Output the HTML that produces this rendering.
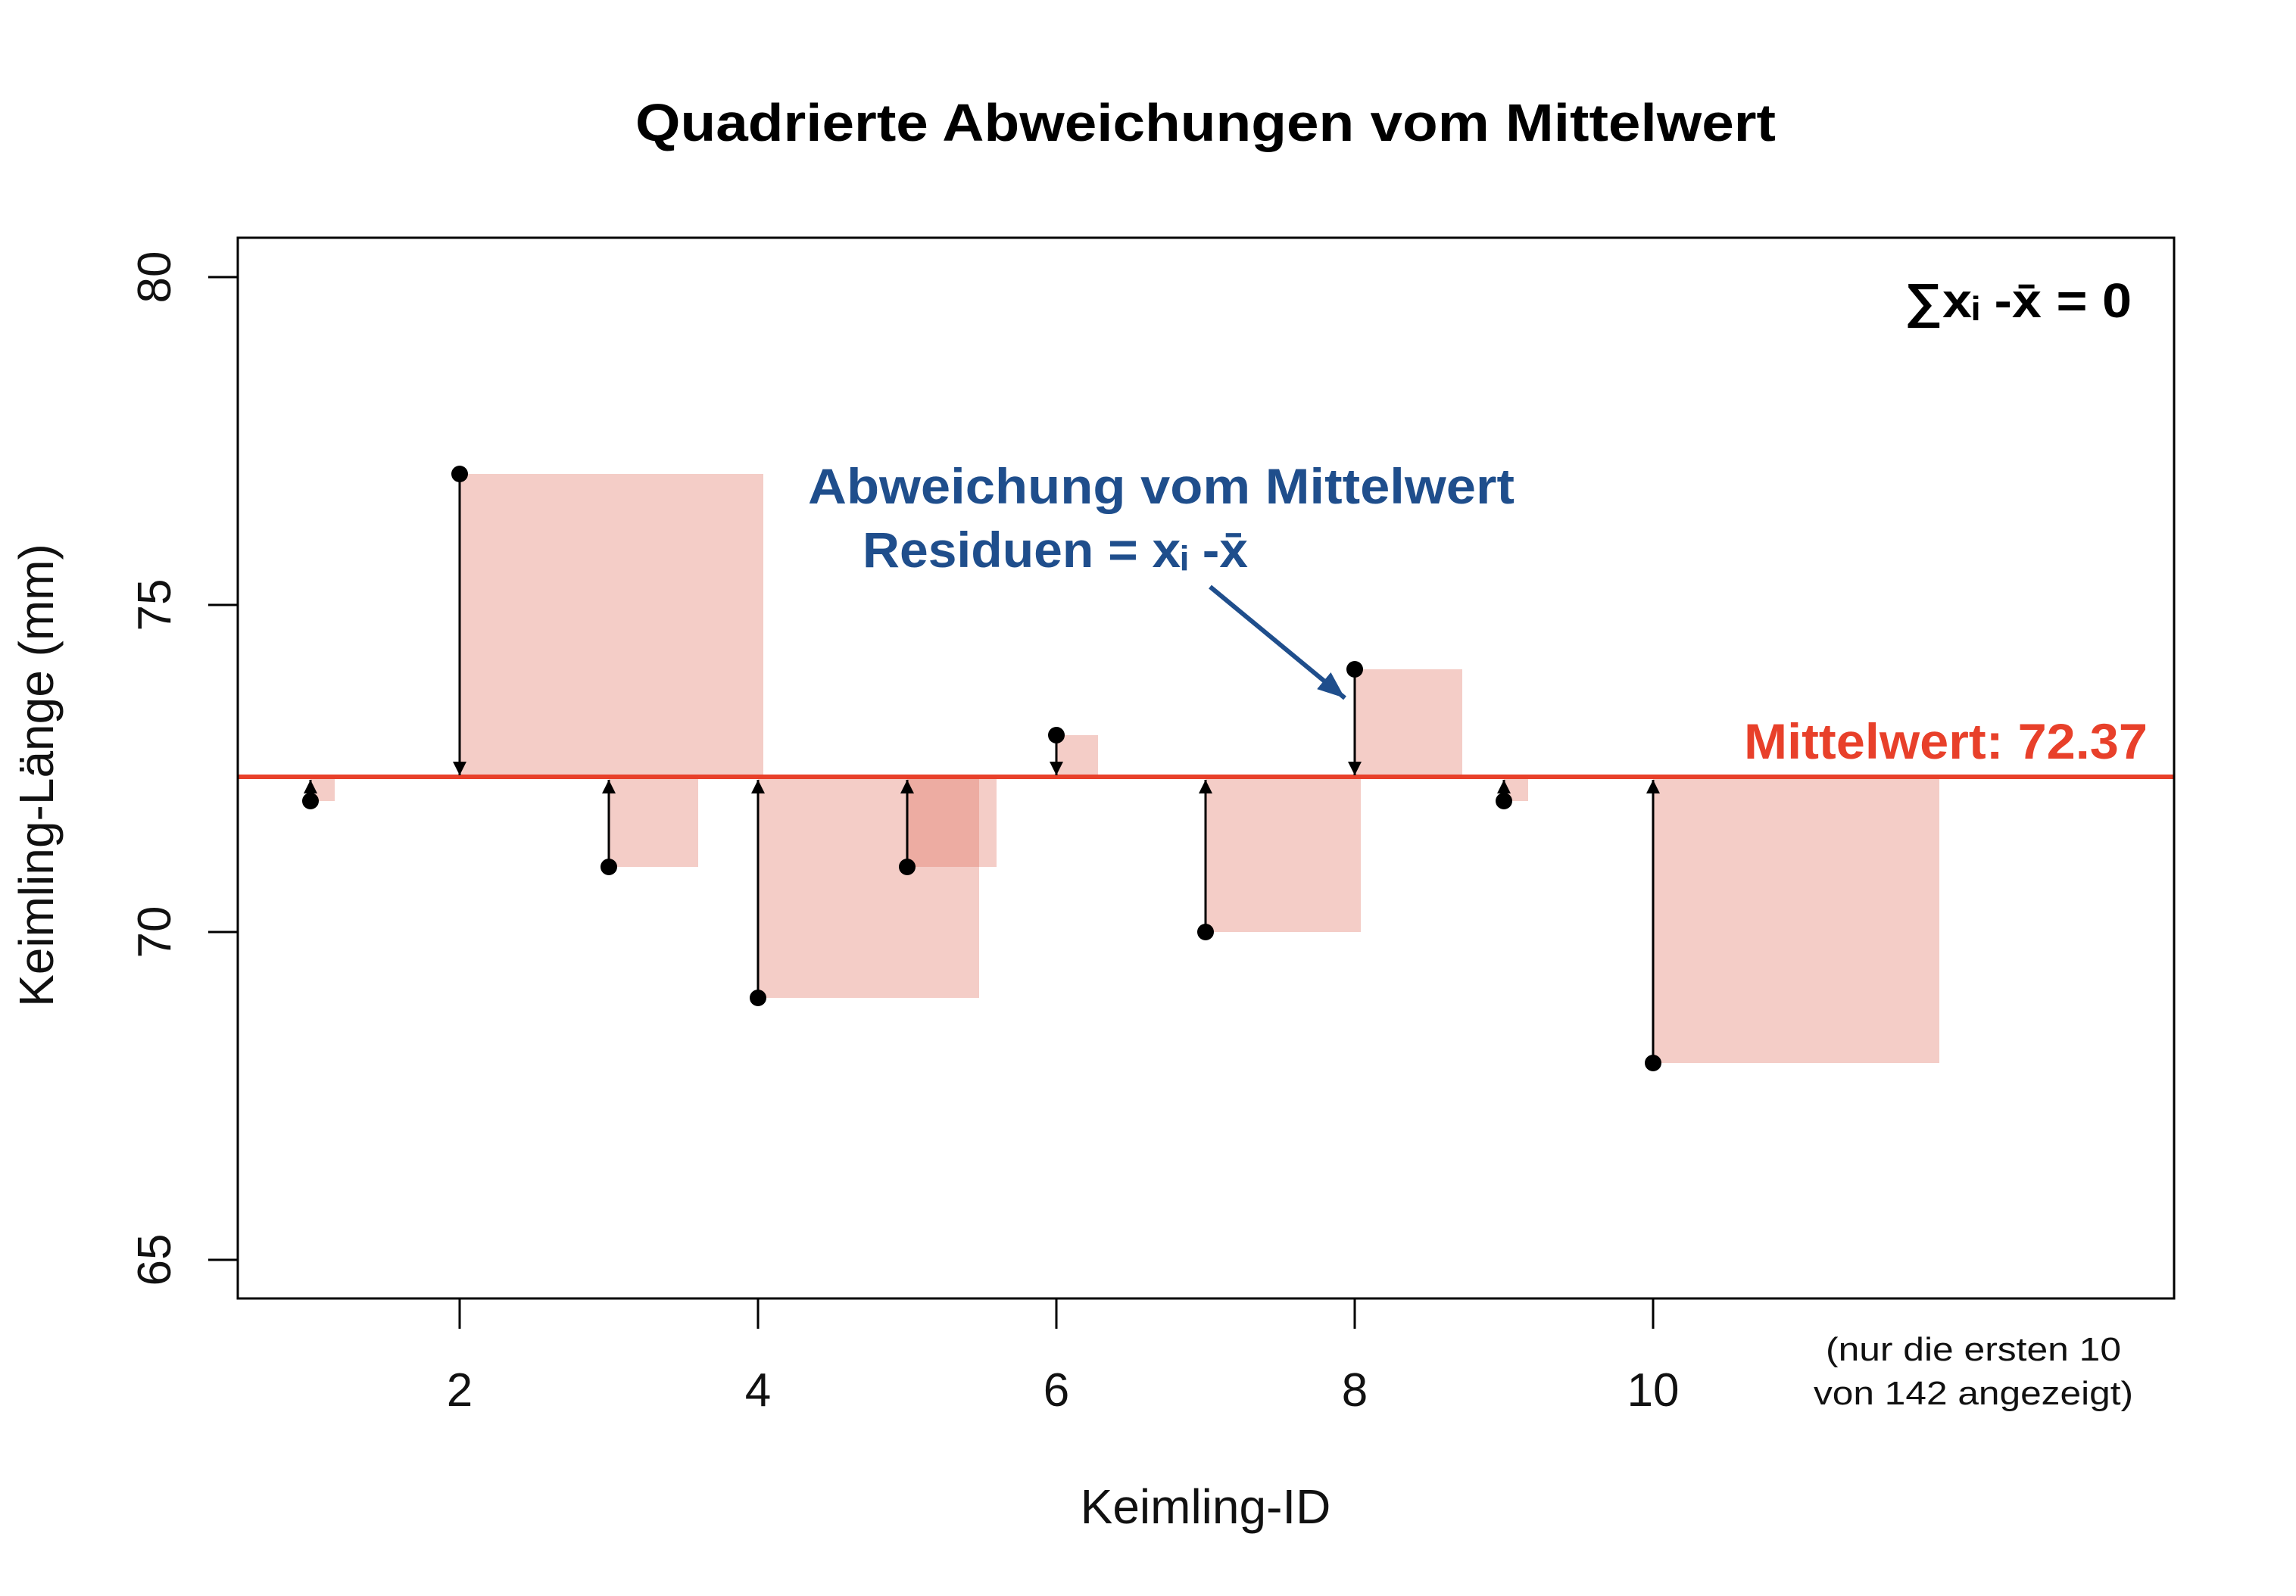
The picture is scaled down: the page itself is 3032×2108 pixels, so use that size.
<!DOCTYPE html>
<html><head><meta charset="utf-8"><style>html,body{margin:0;padding:0;background:#fff}svg{display:block}</style></head>
<body>
<svg width="3032" height="2108" viewBox="0 0 3032 2108" xmlns="http://www.w3.org/2000/svg" font-family="Liberation Sans, Arial, sans-serif">
<defs>
<marker id="ah" viewBox="0 0 10 10" refX="10" refY="5" markerWidth="18" markerHeight="18" markerUnits="userSpaceOnUse" orient="auto"><path d="M0,0 L10,5 L0,10 z" fill="#000"/></marker>
<marker id="bh" viewBox="0 0 10 10" refX="10" refY="5" markerWidth="36" markerHeight="36" markerUnits="userSpaceOnUse" orient="auto"><path d="M0,1 L10,5 L0,9 z" fill="#1f4e8c"/></marker>
</defs>
<text x="1592" y="186" font-size="70" font-weight="bold" text-anchor="middle" textLength="1506" lengthAdjust="spacingAndGlyphs">Quadrierte Abweichungen vom Mittelwert</text>
<g fill="#e0705e" fill-opacity="0.35">
<rect x="410" y="1026" width="32" height="32"/>
<rect x="607" y="626" width="401" height="400"/>
<rect x="804" y="1026" width="118" height="119"/>
<rect x="1001" y="1026" width="292" height="292"/>
<rect x="1198" y="1026" width="118" height="119"/>
<rect x="1395" y="971" width="55" height="55"/>
<rect x="1592" y="1026" width="205" height="205"/>
<rect x="1789" y="884" width="142" height="142"/>
<rect x="1986" y="1026" width="32" height="32"/>
<rect x="2183" y="1026" width="378" height="378"/>
</g>
<line x1="314" y1="1026" x2="2871" y2="1026" stroke="#e8402a" stroke-width="6"/>
<g stroke="#000" stroke-width="3" marker-end="url(#ah)">
<line x1="410" y1="1058" x2="410" y2="1030"/>
<line x1="607" y1="626" x2="607" y2="1024"/>
<line x1="804" y1="1145" x2="804" y2="1030"/>
<line x1="1001" y1="1318" x2="1001" y2="1030"/>
<line x1="1198" y1="1145" x2="1198" y2="1030"/>
<line x1="1395" y1="971" x2="1395" y2="1024"/>
<line x1="1592" y1="1231" x2="1592" y2="1030"/>
<line x1="1789" y1="884" x2="1789" y2="1024"/>
<line x1="1986" y1="1058" x2="1986" y2="1030"/>
<line x1="2183" y1="1404" x2="2183" y2="1030"/>
</g>
<g fill="#000">
<circle cx="410" cy="1058" r="11"/><circle cx="607" cy="626" r="11"/><circle cx="804" cy="1145" r="11"/>
<circle cx="1001" cy="1318" r="11"/><circle cx="1198" cy="1145" r="11"/><circle cx="1395" cy="971" r="11"/>
<circle cx="1592" cy="1231" r="11"/><circle cx="1789" cy="884" r="11"/><circle cx="1986" cy="1058" r="11"/>
<circle cx="2183" cy="1404" r="11"/>
</g>
<rect x="314" y="314" width="2557" height="1401" fill="none" stroke="#000" stroke-width="3"/>
<g stroke="#000" stroke-width="3">
<line x1="275" y1="366" x2="314" y2="366"/><line x1="275" y1="799" x2="314" y2="799"/>
<line x1="275" y1="1231" x2="314" y2="1231"/><line x1="275" y1="1664" x2="314" y2="1664"/>
<line x1="607" y1="1715" x2="607" y2="1755"/><line x1="1001" y1="1715" x2="1001" y2="1755"/>
<line x1="1395" y1="1715" x2="1395" y2="1755"/><line x1="1789" y1="1715" x2="1789" y2="1755"/>
<line x1="2183" y1="1715" x2="2183" y2="1755"/>
</g>
<g font-size="62" fill="#111" text-anchor="middle">
<text transform="translate(225,366) rotate(-90)">80</text>
<text transform="translate(225,799) rotate(-90)">75</text>
<text transform="translate(225,1231) rotate(-90)">70</text>
<text transform="translate(225,1664) rotate(-90)">65</text>
<text x="607" y="1857">2</text><text x="1001" y="1857">4</text><text x="1395" y="1857">6</text>
<text x="1789" y="1857">8</text><text x="2183" y="1857">10</text>
</g>
<text transform="translate(70,1024) rotate(-90)" font-size="64" fill="#111" text-anchor="middle">Keimling-Länge (mm)</text>
<text x="1592" y="2012" font-size="64" fill="#111" text-anchor="middle">Keimling-ID</text>
<g font-size="44" fill="#111" text-anchor="middle">
<text x="2606" y="1797" textLength="390" lengthAdjust="spacingAndGlyphs">(nur die ersten 10</text>
<text x="2606" y="1855" textLength="422" lengthAdjust="spacingAndGlyphs">von 142 angezeigt)</text>
</g>
<text x="2515" y="419" font-size="64" font-weight="bold" textLength="300" lengthAdjust="spacingAndGlyphs">∑xᵢ -x̄ = 0</text>
<text x="2303" y="1002" font-size="66" font-weight="bold" fill="#e8402a" textLength="533" lengthAdjust="spacingAndGlyphs">Mittelwert: 72.37</text>
<g font-weight="bold" fill="#1f4e8c" font-size="66">
<text x="1067" y="665" textLength="933" lengthAdjust="spacingAndGlyphs">Abweichung vom Mittelwert</text>
<text x="1139" y="749" textLength="509" lengthAdjust="spacingAndGlyphs">Residuen = xᵢ -x̄</text>
</g>
<line x1="1598" y1="775" x2="1776" y2="922" stroke="#1f4e8c" stroke-width="6" marker-end="url(#bh)"/>
</svg>
</body></html>
